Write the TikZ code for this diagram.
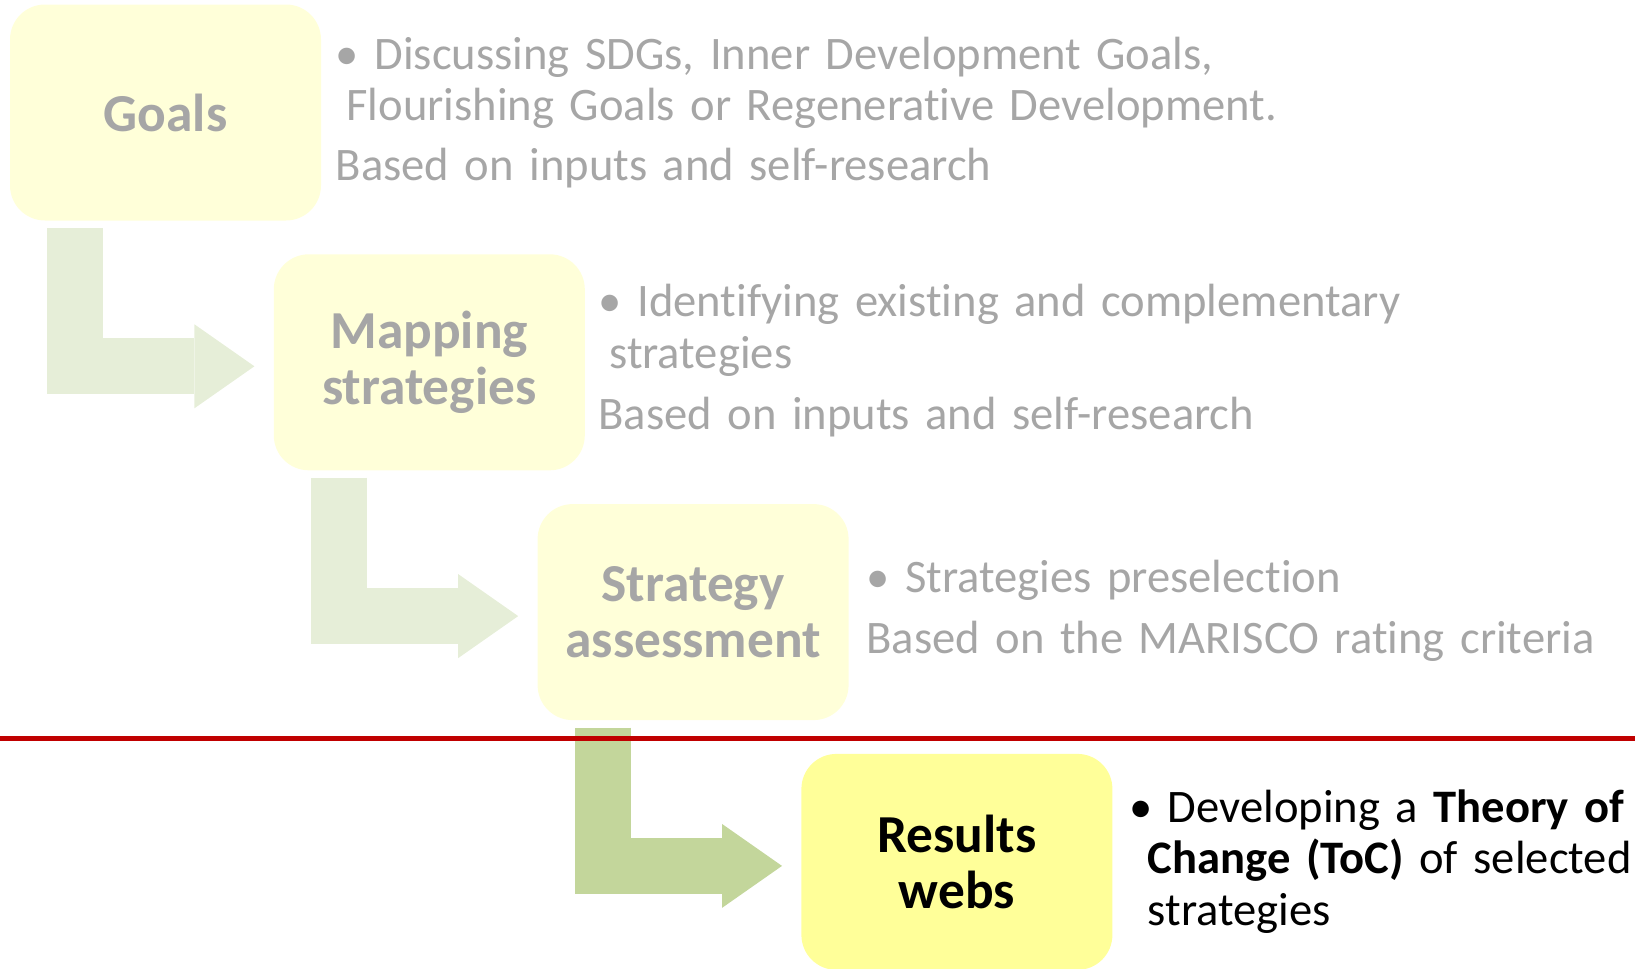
\documentclass[tikz,border=0pt]{standalone}
\usepackage{fontspec}
\setmainfont{Carlito}[Ligatures=NoCommon]
\usetikzlibrary{positioning, arrows.meta}

\definecolor{boxpale}{HTML}{FFFFD9}
\definecolor{boxlive}{HTML}{FFFF99}
\definecolor{arrowpale}{HTML}{E6EED8}
\definecolor{arrowlive}{HTML}{C3D69B}
\definecolor{textpale}{HTML}{A6A6A6}
\definecolor{cutred}{HTML}{C00000}

\begin{document}
\begin{tikzpicture}[
    x=0.5pt, y=-0.5pt,
    stage/.style={rectangle, rounded corners=17.5pt, fill=boxpale, text=textpale, minimum width=155.5pt, minimum height=108pt, inner sep=0pt, align=center, font=\fontsize{26.7}{28}\selectfont\bfseries},
    note/.style={anchor=base west, inner sep=0pt, text width=620pt, align=left, text=textpale, font=\fontsize{23.3}{25.7}\selectfont},
    flow/.style={line width=28pt, arrowpale, -{Triangle[length=30pt, width=42pt, line width=0pt]}},
]
    \useasboundingbox (0,0) rectangle (1635,969);

    % Boxes
    \node[stage] (goals) at (165.5,112.5) {Goals};
    \node[stage] (map) [below right=16.5pt and -24pt of goals] {Mapping\\strategies};
    \node[stage] (assess) [below right=16.5pt and -24pt of map] {Strategy\\assessment};
    \node[stage, fill=boxlive, text=black] (webs) [below right=16.5pt and -24pt of assess] {Results\\webs};

    % Bent arrows
    \draw[flow] ([xshift=32.75pt, yshift=-3.5pt]goals.south west) |- ([xshift=-9.5pt, yshift=-2pt]map.west);
    \draw[flow] ([xshift=32.75pt, yshift=-3.5pt]map.south west) |- ([xshift=-9.5pt, yshift=-2pt]assess.west);
    \draw[flow, arrowlive] ([xshift=32.75pt, yshift=-3.5pt]assess.south west) |- ([xshift=-9.5pt, yshift=-2pt]webs.west);

    % Divider
    \coordinate (cutL) at (0,738);
    \coordinate (cutR) at (1635,738);
    \draw[cutred, line width=2.5pt] (cutL) -- (cutR);

    % Notes
    \node[note] (goalsBul) at ([xshift=7pt, yshift=-32.5pt]goals.north east) {• Discussing SDGs, Inner Development Goals,\\\hspace*{.23em}Flourishing Goals or Regenerative Development.};
    \node[note] (goalsSrc) at ([xshift=7pt, yshift=-88pt]goals.north east) {Based on inputs and self-research};
    \node[note] (mapBul) at ([xshift=6.5pt, yshift=-31.5pt]map.north east) {• Identifying existing and complementary\\\hspace*{.23em}strategies};
    \node[note] (mapSrc) at ([xshift=6.5pt, yshift=-88pt]map.north east) {Based on inputs and self-research};
    \node[note] (assessBul) at ([xshift=8.5pt, yshift=-44.5pt]assess.north east) {• Strategies preselection};
    \node[note] (assessSrc) at ([xshift=8.5pt, yshift=-75pt]assess.north east) {Based on the MARISCO rating criteria};
    \node[note, text=black] (websBul) at ([xshift=8pt, yshift=-34.5pt]webs.north east) {• Developing a \textbf{Theory of}\\\hspace*{.4em}\textbf{Change (ToC)} of selected\\\hspace*{.4em}strategies};
\end{tikzpicture}
\end{document}
